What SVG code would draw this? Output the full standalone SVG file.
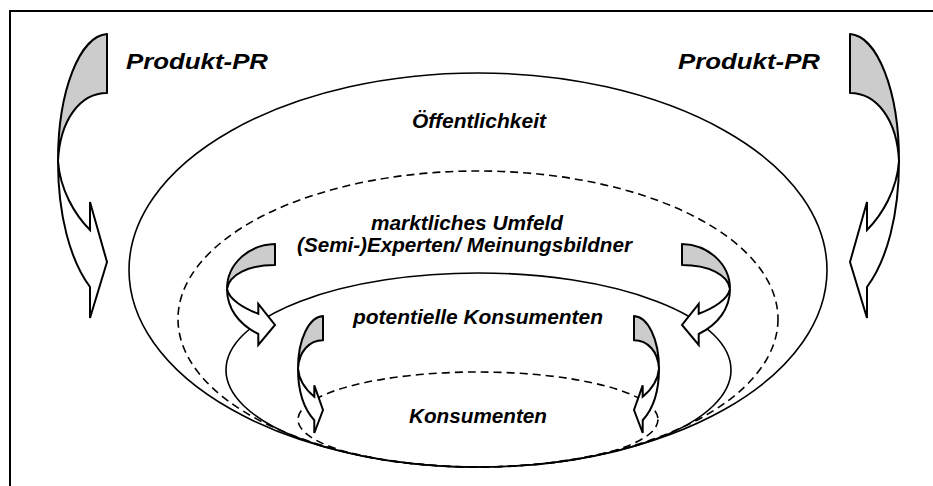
<svg xmlns="http://www.w3.org/2000/svg" width="933" height="486" viewBox="0 0 933 486">
<style>
.frame{fill:none;stroke:#000;stroke-width:2}
.solid{fill:none;stroke:#000;stroke-width:1.6}
.dash{fill:none;stroke:#000;stroke-width:1.6;stroke-dasharray:8 5}
.back{fill:#cccccc;stroke:#000;stroke-width:2;stroke-linejoin:round}
.front{fill:#fff;stroke:#000;stroke-width:2;stroke-linejoin:miter}
.lbl{font-family:"Liberation Sans",Arial,sans-serif;font-weight:bold;font-style:italic;fill:#000}
</style>
<rect width="933" height="486" fill="#fff"/>
<path class="frame" d="M10,486 V11 H933"/>
<g id="oeffentlichkeit">
<ellipse class="solid" cx="478" cy="270" rx="349" ry="197"/>
<text class="lbl" x="412" y="128" font-size="19.5" textLength="134" lengthAdjust="spacingAndGlyphs">Öffentlichkeit</text>
</g>
<g id="marktliches-umfeld">
<ellipse class="dash" cx="478" cy="319" rx="300" ry="148"/>
<text class="lbl" x="371" y="230" font-size="20" textLength="192" lengthAdjust="spacingAndGlyphs">marktliches Umfeld</text>
<text class="lbl" x="297" y="252" font-size="20" textLength="335" lengthAdjust="spacingAndGlyphs">(Semi-)Experten/ Meinungsbildner</text>
</g>
<g id="potentielle-konsumenten">
<ellipse class="solid" cx="478.5" cy="370" rx="252.5" ry="97"/>
<text class="lbl" x="353" y="324" font-size="20" textLength="250" lengthAdjust="spacingAndGlyphs">potentielle Konsumenten</text>
</g>
<g id="konsumenten">
<ellipse class="dash" cx="478" cy="419.5" rx="180" ry="47.5"/>
<text class="lbl" x="409" y="423" font-size="20" textLength="138" lengthAdjust="spacingAndGlyphs">Konsumenten</text>
</g>
<g id="produkt-pr-labels">
<text class="lbl" x="126" y="69" font-size="22.5" textLength="142" lengthAdjust="spacingAndGlyphs">Produkt-PR</text>
<text class="lbl" x="678" y="69" font-size="22.5" textLength="142" lengthAdjust="spacingAndGlyphs">Produkt-PR</text>
</g>
<g id="connectors">
<g id="arrow-big-left">
<path class="back" d="M107,34 C80,36 58,90 58,161 C60,120 80,93 107,93 Z"/>
<path class="front" d="M58,161 C58,215 70,260 90,287 L90,318 L107,262 L90,202 L90,230 C75,215 60,190 58,161 Z"/>
</g>
<g id="arrow-big-right" transform="matrix(-1 0 0 1 957 0)">
<path class="back" d="M107,34 C80,36 58,90 58,161 C60,120 80,93 107,93 Z"/>
<path class="front" d="M58,161 C58,215 70,260 90,287 L90,318 L107,262 L90,202 L90,230 C75,215 60,190 58,161 Z"/>
</g>
<g id="arrow-mid-left">
<path class="back" d="M275,244 C248.6,244.7 227,264 227,289 C229,274.6 248.6,265 275,265 Z"/>
<path class="front" d="M227,289 C227,308.3 238.8,324.4 258.3,334 L258.3,345 L275,325 L258.3,303.8 L258.3,313.7 C243.7,308.3 229,299.4 227,289 Z"/>
</g>
<g id="arrow-mid-right" transform="matrix(-1 0 0 1 957 0)">
<path class="back" d="M275,244 C248.6,244.7 227,264 227,289 C229,274.6 248.6,265 275,265 Z"/>
<path class="front" d="M227,289 C227,308.3 238.8,324.4 258.3,334 L258.3,345 L275,325 L258.3,303.8 L258.3,313.7 C243.7,308.3 229,299.4 227,289 Z"/>
</g>
<g id="arrow-small-left">
<path class="back" d="M323,316 C309.2,316.8 298,339 298,368.5 C299,351.5 309.2,340.3 323,340.3 Z"/>
<path class="front" d="M298,368.5 C298,390.5 304.1,409.1 314.3,420.2 L314.3,433 L323,410 L314.3,385.3 L314.3,396.7 C306.7,390.5 299,380.2 298,368.5 Z"/>
</g>
<g id="arrow-small-right" transform="matrix(-1 0 0 1 957 0)">
<path class="back" d="M323,316 C309.2,316.8 298,339 298,368.5 C299,351.5 309.2,340.3 323,340.3 Z"/>
<path class="front" d="M298,368.5 C298,390.5 304.1,409.1 314.3,420.2 L314.3,433 L323,410 L314.3,385.3 L314.3,396.7 C306.7,390.5 299,380.2 298,368.5 Z"/>
</g>
</g>
</svg>
